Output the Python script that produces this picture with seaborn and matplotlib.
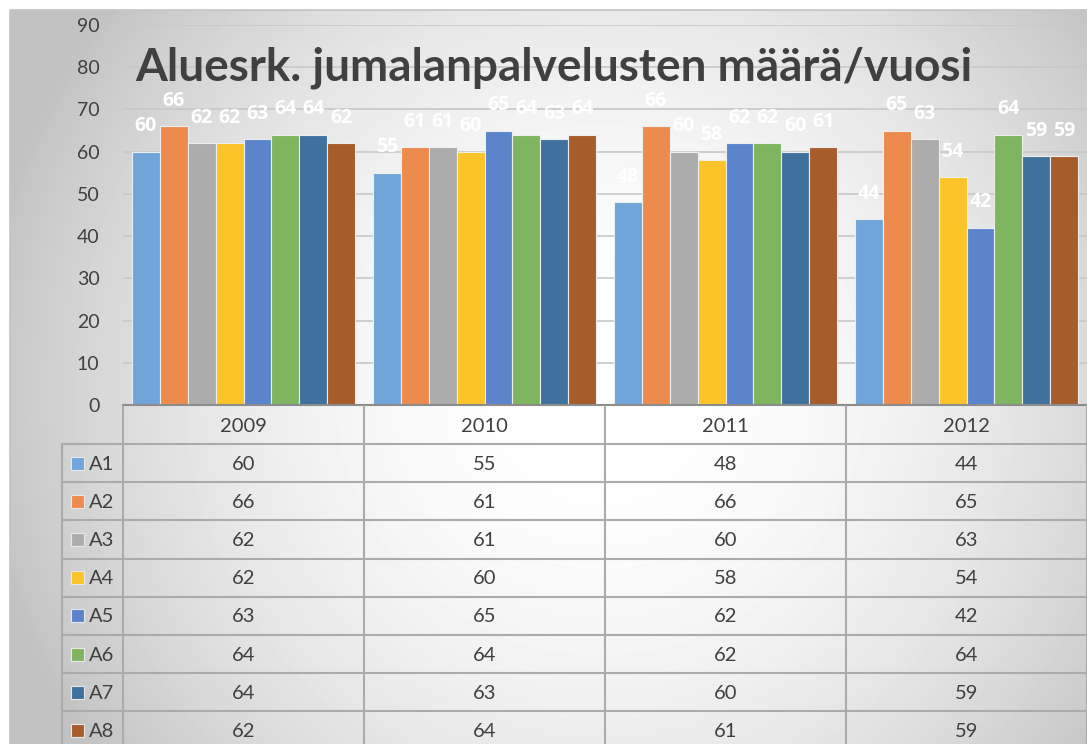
import numpy as np
import pandas as pd
import matplotlib
matplotlib.use("Agg")
import matplotlib.pyplot as plt
from matplotlib.patches import Rectangle
import seaborn as sns

# ── Data ───────────────────────────────────────────────────────────────────────
years = ["2009", "2010", "2011", "2012"]
series = ["A1", "A2", "A3", "A4", "A5", "A6", "A7", "A8"]
a1 = [60, 55, 48, 44]
a2 = [66, 61, 66, 65]
a3 = [62, 61, 60, 63]
a4 = [62, 60, 58, 54]
a5 = [63, 65, 62, 42]
a6 = [64, 64, 62, 64]
a7 = [64, 63, 60, 59]
a8 = [62, 64, 61, 59]
title = "Aluesrk. jumalanpalvelusten määrä/vuosi"

colors = ["#6fa5d8", "#ed8b4f", "#acacac", "#fcc428",
          "#5b84cd", "#7fb55f", "#3f719e", "#a65d2b"]

values = [a1, a2, a3, a4, a5, a6, a7, a8]
df = pd.DataFrame(
    [(yr, s, v[i]) for s, v in zip(series, values) for i, yr in enumerate(years)],
    columns=["vuosi", "srk", "maara"],
)

# ── Style ──────────────────────────────────────────────────────────────────────
sns.set_style("white")
plt.rcParams["font.family"] = ["Lato", "DejaVu Sans"]
text_col = "#404040"
line_col = "#ababab"

W, H = 1087, 744
fig = plt.figure(figsize=(W / 100, H / 100), dpi=100)

# radial gradient background of the chart area (white centre, grey edges)
bg = fig.add_axes([0, 0, 1, 1], zorder=0)
yy, xx = np.mgrid[0:H, 0:W]
d = np.sqrt((xx - 600) ** 2 + (yy - 390) ** 2)
grad = np.clip(1 - 0.22 * (d / 600) ** 2, 0.76, 1)
grad[(xx < 10) | (yy < 10)] = 1.0
bg.imshow(grad, cmap="gray", vmin=0, vmax=1, extent=(0, W, H, 0), aspect="auto")
bg.plot([10, 10, W], [H, 10, 10], color="#c4c4c4", lw=1.2)
bg.set_xlim(0, W)
bg.set_ylim(H, 0)
bg.axis("off")

# plot area (pixels: x 123..1087, y 25..405)
left, right, top, bottom = 123, 1087, 25, 405
ax = fig.add_axes([left / W, 1 - bottom / H, (right - left) / W, (bottom - top) / H],
                  zorder=1)
ax.patch.set_alpha(0)
sns.barplot(data=df, x="vuosi", y="maara", hue="srk", palette=colors,
            saturation=1, width=0.925, edgecolor="#eeeeee", linewidth=0.8,
            legend=False, ax=ax)
for cont in ax.containers:
    ax.bar_label(cont, padding=11, color="white", fontweight="bold",
                 fontsize=14, family=["Open Sans", "DejaVu Sans"])

ax.set_xlim(-0.5, len(years) - 0.5)
ax.set_ylim(0, 90)
ax.set_yticks(range(0, 91, 10))
ax.yaxis.grid(True, color="#c8c8c8", lw=1.2)
ax.set_axisbelow(True)
ax.tick_params(axis="y", length=0, pad=17, labelsize=14, labelcolor=text_col)
ax.tick_params(axis="x", length=0, labelbottom=False)
ax.set_xlabel("")
ax.set_ylabel("")
for side in ["top", "right", "left"]:
    ax.spines[side].set_visible(False)
ax.spines["bottom"].set_color("#8c8c8c")
ax.spines["bottom"].set_linewidth(1.5)

# overlay for title and data table, in pixel units
ov = fig.add_axes([0, 0, 1, 1], zorder=2)
ov.patch.set_alpha(0)
ov.set_xlim(0, W)
ov.set_ylim(H, 0)
ov.axis("off")

ov.text(135, 68, title, fontsize=33, fontweight="bold", color=text_col,
        ha="left", va="center")

# data table
col_w = (right - left) / len(years)
head_top, head_bot = 406, 444
row_h = 38.2
leg_left = 62
n_rows = len(series)
table_bot = head_bot + row_h * n_rows

for j in range(len(years) + 1):
    x = left + j * col_w
    ov.plot([x, x], [head_top, table_bot], color=line_col, lw=1.5)
ov.plot([leg_left, leg_left], [head_bot, table_bot], color=line_col, lw=1.5)
ov.plot([leg_left, right], [head_bot, head_bot], color=line_col, lw=1.5)
for i in range(1, n_rows + 1):
    y = head_bot + i * row_h
    ov.plot([leg_left, right], [y, y], color=line_col, lw=1.5)

for j, yr in enumerate(years):
    ov.text(left + (j + 0.5) * col_w, (head_top + head_bot) / 2 + 1, yr,
            ha="center", va="center", fontsize=14.5, color=text_col)

for i, (s, v, c) in enumerate(zip(series, values, colors)):
    yc = head_bot + (i + 0.5) * row_h
    ov.add_patch(Rectangle((71, yc - 6.5), 13, 13, facecolor=c,
                           edgecolor="#e8e8e8", lw=0.8))
    ov.text(89, yc + 1, s, ha="left", va="center", fontsize=14.5, color=text_col)
    for j in range(len(years)):
        ov.text(left + (j + 0.5) * col_w, yc + 1, str(v[j]),
                ha="center", va="center", fontsize=14.5, color=text_col)

fig.savefig("out.png", dpi=100)
